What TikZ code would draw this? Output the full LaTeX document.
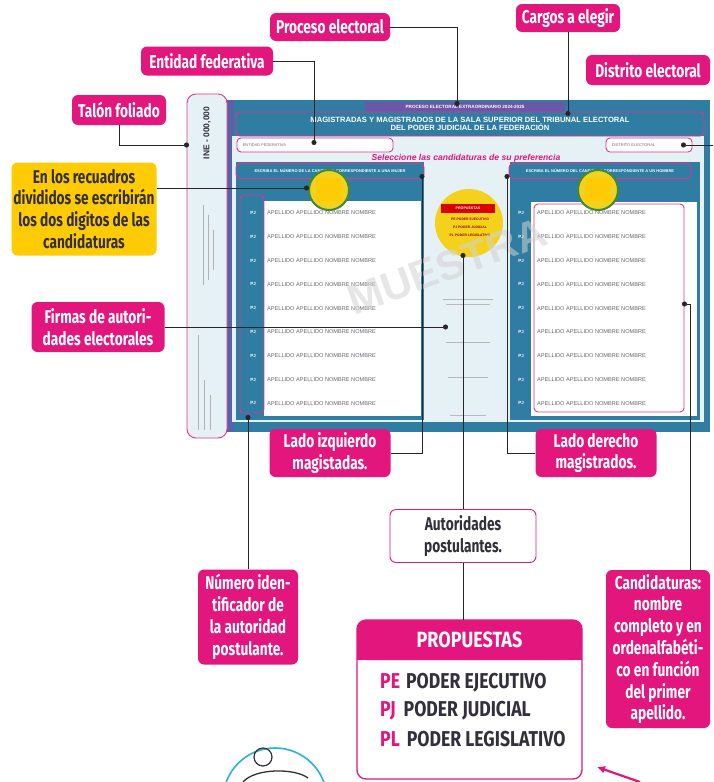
\documentclass[tikz,border=0pt]{standalone}
\usepackage{fontspec}
\usetikzlibrary{arrows.meta}
\setmainfont{Fira Sans}
\newfontfamily\tagfont[FakeStretch=0.74]{Fira Sans}
\newfontfamily\capfont[FakeStretch=0.82]{Fira Sans}
\newfontfamily\finefont{Liberation Sans}
\definecolor{mag}{HTML}{E2167C}
\definecolor{ballot}{HTML}{2F7DA3}
\definecolor{paper}{HTML}{E6F1F6}
\definecolor{pinkline}{HTML}{E0358C}
\definecolor{gold}{HTML}{FFCB05}
\definecolor{ink}{HTML}{33303C}
\definecolor{band}{HTML}{6B57A8}
\definecolor{ringgreen}{HTML}{3D8A3C}
\definecolor{hilite}{HTML}{F4D21C}
\definecolor{ringcyan}{HTML}{27B4D8}

\tikzset{
  tag/.style={fill=mag, rounded corners=6pt, text=white, align=center, inner sep=1pt,
    font=\tagfont\bfseries\fontsize{18.5}{21.8}\selectfont},
  lead/.style={black!85, line width=0.9pt, -{Circle[length=5pt]}},
  field/.style={draw=pinkline, rounded corners=4pt, line width=0.9pt},
  fine/.style={font=\finefont\fontsize{5.6}{6}\selectfont, inner sep=0pt},
  entry/.style={fine, text=ink!75, anchor=west},
  wcell/.style={inner sep=0pt, text=white, font=\finefont\bfseries\fontsize{4.5}{5}\selectfont},
  propitem/.style={anchor=west, inner sep=0pt, text=ink, font=\capfont\bfseries\fontsize{21.5}{22}\selectfont},
}

\begin{document}
\begin{tikzpicture}[x=1pt,y=1pt,yscale=-1]
\useasboundingbox (0,0) rectangle (713,782);
\fill[white] (0,0) rectangle (713,782);

% ballot
\fill[ballot] (225,100) rectangle (710,432);
\fill[band!70!ballot] (225,100) rectangle (234,432);
\fill[paper] (232,136) rectangle (704,422);
\node (topband) at (465,107) [fill=band, minimum width=200pt, minimum height=10pt, inner sep=0pt, text=white,
  font=\finefont\bfseries\fontsize{4.6}{5}\selectfont] {PROCESO ELECTORAL EXTRAORDINARIO 2024-2025};
\node (title) at (470,124) [field, fill=ballot, minimum width=468pt, minimum height=24pt, inner sep=0pt, align=center,
  text=white, font=\finefont\bfseries\fontsize{7.6}{8.6}\selectfont]
  {MAGISTRADAS Y MAGISTRADOS DE LA SALA SUPERIOR DEL TRIBUNAL ELECTORAL\\DEL PODER JUDICIAL DE LA FEDERACIÓN};
\node (entfield) at (315,145) [field, fill=white, minimum width=156pt, minimum height=14pt] {};
\node (entlbl) at ([xshift=6pt]entfield.west) [fine, anchor=west, text=ink!70, font=\finefont\fontsize{4}{5}\selectfont] {ENTIDAD FEDERATIVA};
\node (disfield) at (649,145) [field, fill=white, minimum width=86pt, minimum height=14pt] {};
\node (dislbl) at ([xshift=6pt]disfield.west) [fine, anchor=west, text=ink!70, font=\finefont\fontsize{4}{5}\selectfont] {DISTRITO ELECTORAL};
\node (pick) at (466,158) [inner sep=0pt, text=mag, font=\finefont\bfseries\itshape\fontsize{8.6}{9}\selectfont]
  {Seleccione las candidaturas de su preferencia};

% left column
\fill[ballot] (236,162) rectangle (424,420);
\fill[white] (264,201) rectangle (421,416);
\node (lhead) at (330,171) [field, fill=ballot, minimum width=188pt, minimum height=15pt, text=white,
  font=\finefont\bfseries\fontsize{4}{5}\selectfont] {ESCRIBA EL NÚMERO DE LA CANDIDATA CORRESPONDIENTE A UNA MUJER};
% right column
\fill[ballot] (510,162) rectangle (700,420);
\fill[white] (531,202) rectangle (697,416);
\node (rhead) at (600,171) [field, fill=ballot, minimum width=182pt, minimum height=15pt, text=white,
  font=\finefont\bfseries\fontsize{4}{5}\selectfont] {ESCRIBA EL NÚMERO DEL CANDIDATO CORRESPONDIENTE A UN HOMBRE};

\foreach \r in {0,...,8}{
  \node[entry] (ln\r) at (267,{213+23.8*\r}) {APELLIDO APELLIDO NOMBRE NOMBRE};
  \node[wcell] (lc\r) at (253,{213+23.8*\r}) {PJ};
  \node[entry] (rn\r) at (537,{213+23.8*\r}) {APELLIDO APELLIDO NOMBRE NOMBRE};
  \node[wcell] (rc\r) at (521,{213+23.8*\r}) {PJ};
}
\draw[field] (240,195) rectangle (264,413);
\draw[field] (534,204) rectangle (684,412);

\foreach \cx in {329,598}{
  \draw[ringgreen, line width=2pt, fill=hilite] (\cx,190) circle (20);
  \fill[gold] ({\cx-13},178) rectangle ({\cx+13},201);
}

% middle column
\fill[hilite] (469,223) circle (34);
\node (mini) at (468,208) [fill=red!85!black, minimum width=54pt, minimum height=9pt, inner sep=0pt, text=white,
  font=\finefont\bfseries\fontsize{3.6}{4}\selectfont] {PROPUESTAS};
\node (mini1) at (470,219) [fine, text=red!60!black, font=\finefont\bfseries\fontsize{3.4}{4}\selectfont] {PE PODER EJECUTIVO};
\node (mini2) at (470,227) [fine, text=red!60!black, font=\finefont\bfseries\fontsize{3.4}{4}\selectfont] {PJ PODER JUDICIAL};
\node (mini3) at (470,235) [fine, text=red!60!black, font=\finefont\bfseries\fontsize{3.4}{4}\selectfont] {PL PODER LEGISLATIVO};
\foreach \y/\w in {299/25,304/22,342/22,377/20,415/18}
  \draw[gray!55, line width=1pt] ({468-\w},\y) -- ({468+\w},\y);

\node (mark) at (447,266) [rotate=20, text=gray!35, opacity=0.55,
  font=\finefont\bfseries\fontsize{42}{42}\selectfont] {MUESTRA};

% talon
\node (stub) at (207,266) [field, fill=paper, minimum width=40pt, minimum height=344pt, rounded corners=9pt] {};
\node (folio) at (207,133) [rotate=90, inner sep=0pt, text=ink, font=\finefont\bfseries\fontsize{8.5}{9}\selectfont] {INE - 000,000};
\foreach \x/\a/\b in {203/205/285,208/215/280,213/230/270,198/335/430,204/380/430,210/395/430}
  \draw[gray!60, line width=0.8pt] (\x,\a) -- (\x,\b);

% callouts
\node[tag, minimum width=120pt, minimum height=28pt] (proc) at (330,27) {Proceso electoral};
\node[tag, minimum width=104pt, minimum height=28pt] (cargos) at (568,18) {Cargos a elegir};
\node[tag, minimum width=132pt, minimum height=29pt] (entidad) at (207,61) {Entidad federativa};
\node[tag, minimum width=124pt, minimum height=30pt] (distrito) at (648,70) {Distrito electoral};
\node[tag, minimum width=94pt, minimum height=30pt] (talon) at (119,110) {Talón foliado};
\node[tag, fill=gold, text=ink, minimum width=145pt, minimum height=93pt] (digits) at (84,209)
  {En los recuadros\\divididos se escribirán\\los dos digitos de las\\candidaturas};
\node[tag, minimum width=133pt, minimum height=50pt] (firmas) at (98,327) {Firmas de autori-\\dades electorales};
\node[tag, minimum width=121pt, minimum height=48pt] (izq) at (330,453) {Lado izquierdo\\magistadas.};
\node[tag, minimum width=121pt, minimum height=48pt] (der) at (596,453) {Lado derecho\\magistrados.};
\node[tag, fill=white, draw=mag, line width=0.9pt, text=ink, minimum width=146pt, minimum height=53pt] (auto) at (463,536)
  {Autoridades\\postulantes.};
\node[tag, minimum width=100pt, minimum height=95pt] (numero) at (248,617)
  {Número iden-\\tificador de\\la autoridad\\postulante.};
\node[tag, minimum width=104pt, minimum height=158pt] (candid) at (658,649)
  {Candidaturas:\\nombre\\completo y en\\ordenalfabéti-\\co en función\\del primer\\apellido.};

\coordinate (pProc) at (457,106);
\coordinate (pCargos) at (568,116);
\coordinate (pEnt) at (314,145);
\coordinate (pDist) at (681,145);
\coordinate (dEdge) at (713,145);
\coordinate (pTal) at (189,145);
\coordinate (pTip) at (309,188);
\coordinate (pFirm) at (448,327);
\coordinate (pIzq) at (422,174);
\coordinate (pDer) at (507,174);
\coordinate (pAuto) at (463,253);
\coordinate (pNum) at (248,415);
\coordinate (pCand) at (682,304);

\draw[lead] (proc.east) -| (pProc);
\draw[lead] (cargos.south) -- (pCargos);
\draw[lead] (entidad.east) -| (pEnt);
\draw[lead] (dEdge) -- (pDist);
\draw[lead] (talon.south) |- (pTal);
\draw[lead] (digits.east |- pTip) -- (pTip);
\draw[lead] (firmas.east) -- (pFirm);
\draw[lead] (izq.east) -| (pIzq);
\draw[lead] (der.west) -| (pDer);
\draw[lead] (auto.north) -- (pAuto);
\draw[lead] (numero.north) -- (pNum);
\draw[lead] ([xshift=32pt]candid.north) |- (pCand);

% propuestas
\draw[mag, line width=1.3pt, rounded corners=9pt, fill=white] (357,620) rectangle (582,779);
\fill[mag, rounded corners=9pt] (357,620) rectangle (582,660);
\fill[mag] (357,645) rectangle (582,660);
\node (prop) at (469.5,640) [minimum width=225pt, minimum height=40pt, inner sep=0pt, text=white,
  font=\capfont\bfseries\fontsize{22}{22}\selectfont] {PROPUESTAS};
\draw[black!85, line width=0.9pt] (auto.south) -- (auto.south |- prop.north);
\node[propitem] (pe) at (380,683) {\textcolor{mag}{PE}\hspace{6pt}PODER EJECUTIVO};
\node[propitem] (pj) at (380,711) {\textcolor{mag}{PJ}\hspace{8pt}PODER JUDICIAL};
\node[propitem] (pl) at (380,739) {\textcolor{mag}{PL}\hspace{7pt}PODER LEGISLATIVO};

% bottom marks
\draw[ringcyan, line width=1.6pt] (275,800) circle (52);
\draw[ink, line width=1.2pt] (263,757) circle (9);
\draw[ink, line width=1.3pt] (243,782) .. controls (255,768) and (295,768) .. (308,778);
\draw[mag, line width=2.2pt, -{Latex[length=8pt,width=8pt]}] (640,782) -- (597,767);
\end{tikzpicture}
\end{document}
